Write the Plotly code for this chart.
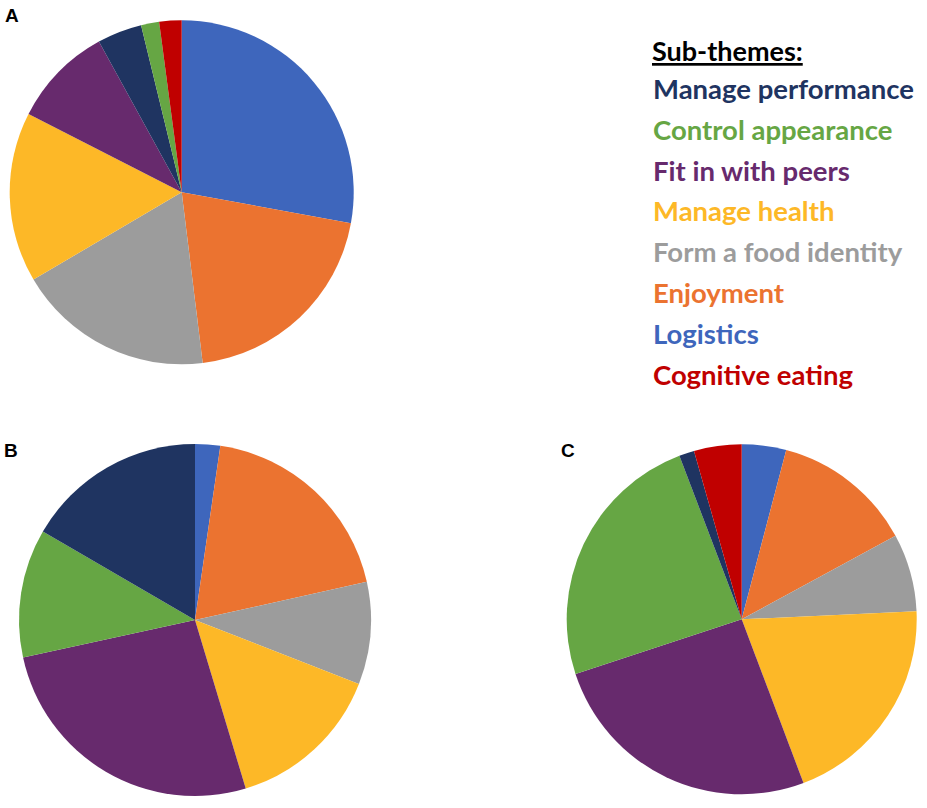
import plotly.graph_objects as go

# data -----------------------------------------------------------------------
# slices read clockwise from 12 o'clock, share of coded items (%)
labels_a = ["Logistics", "Enjoyment", "Form a food identity", "Manage health",
            "Fit in with peers", "Manage performance", "Control appearance",
            "Cognitive eating"]
values_a = [27.9, 20.2, 18.5, 16.0, 9.5, 4.2, 1.7, 2.1]

labels_b = ["Logistics", "Enjoyment", "Form a food identity", "Manage health",
            "Fit in with peers", "Control appearance", "Manage performance"]
values_b = [2.3, 19.2, 9.4, 14.4, 26.2, 11.8, 16.6]

labels_c = ["Logistics", "Enjoyment", "Form a food identity", "Manage health",
            "Fit in with peers", "Control appearance", "Manage performance",
            "Cognitive eating"]
values_c = [4.1, 13.0, 7.2, 20.0, 25.7, 24.3, 1.4, 4.4]

# legend order as in the figure key
legend_order = ["Manage performance", "Control appearance", "Fit in with peers",
                "Manage health", "Form a food identity", "Enjoyment",
                "Logistics", "Cognitive eating"]

colors = {
    "Manage performance": "#1f3461",
    "Control appearance": "#66a644",
    "Fit in with peers": "#672a6d",
    "Manage health": "#fdb827",
    "Form a food identity": "#9c9c9c",
    "Enjoyment": "#eb7330",
    "Logistics": "#3e66bc",
    "Cognitive eating": "#c00000",
}

W, H = 927, 808


# helpers --------------------------------------------------------------------
def px_x(px):
    return px / W


def px_y(py):
    return 1 - py / H


def pie_domain(cx, cy, r):
    # pixel centre/radius -> paper domain
    return dict(x=[px_x(cx - r), px_x(cx + r)],
                y=[px_y(cy + r), px_y(cy - r)])


def make_pie(labels, values, cx, cy, r):
    return go.Pie(
        labels=labels, values=values,
        marker=dict(colors=[colors[l] for l in labels], line=dict(width=0)),
        sort=False, direction="clockwise", rotation=0,
        textinfo="none", hoverinfo="label+percent",
        showlegend=False,
        domain=pie_domain(cx, cy, r),
    )


fig = go.Figure()
fig.add_trace(make_pie(labels_a, values_a, 181.7, 192.3, 172))
fig.add_trace(make_pie(labels_b, values_b, 195, 620, 176))
fig.add_trace(make_pie(labels_c, values_c, 741.7, 619.3, 175))

annotations = []
# panel letters
for letter, px, py in [("A", 3, 15.5), ("B", 2, 450), ("C", 559, 450.5)]:
    annotations.append(dict(
        text="<b>%s</b>" % letter, x=px_x(px), y=px_y(py),
        xref="paper", yref="paper", xanchor="left", yanchor="middle",
        showarrow=False, font=dict(family="Liberation Sans", size=19, color="black")))

# key text
annotations.append(dict(
    text="<b>Sub-themes:</b>", x=px_x(650), y=px_y(50),
    xref="paper", yref="paper", xanchor="left", yanchor="middle", showarrow=False,
    font=dict(family="Lato", size=27, color="black", lineposition="under")))
for i, name in enumerate(legend_order):
    annotations.append(dict(
        text="<b>%s</b>" % name, x=px_x(651), y=px_y(88.5 + 40.8 * i),
        xref="paper", yref="paper", xanchor="left", yanchor="middle", showarrow=False,
        font=dict(family="Lato", size=27.5, color=colors[name])))

fig.update_layout(
    width=W, height=H,
    margin=dict(l=0, r=0, t=0, b=0),
    paper_bgcolor="white",
    plot_bgcolor="white",
    annotations=annotations,
)

# drop the default page margin so the figure sits at the window corner
fig.write_html("out.html", config={"displayModeBar": False},
               post_script="document.body.style.margin = '0px';")
